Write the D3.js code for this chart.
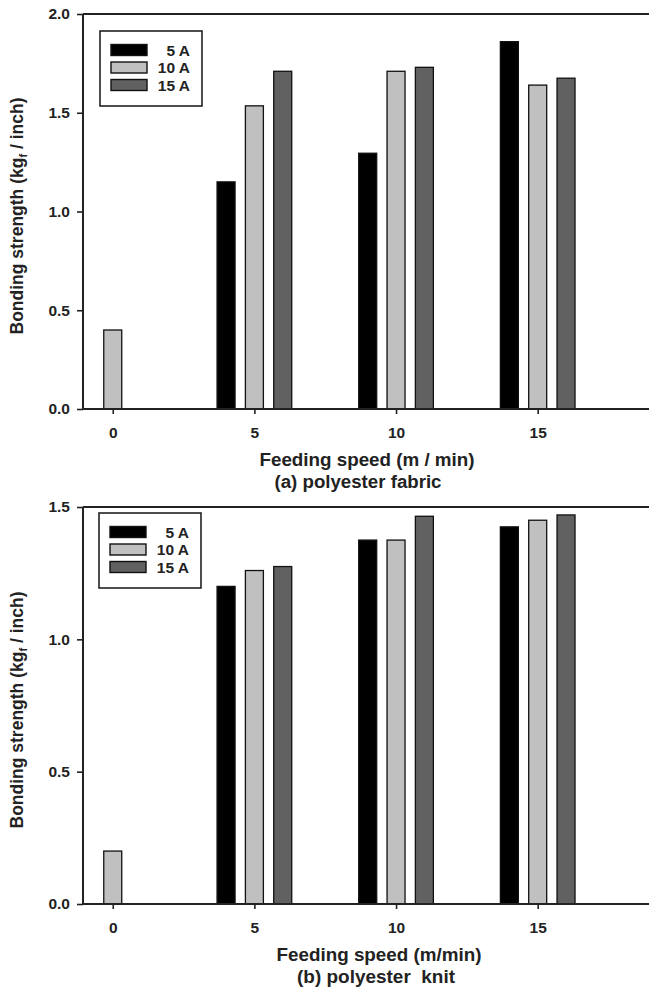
<!DOCTYPE html>
<html>
<head>
<meta charset="utf-8">
<script src="https://cdn.jsdelivr.net/npm/d3@7"></script>
<style>
  html, body { margin: 0; padding: 0; background: #fff; }
  svg { display: block; }
</style>
</head>
<body>
<div id="chart"></div>
<script>
// feeding speeds (m/min) and current levels
const speeds = [0, 5, 10, 15];
const xTicks = [0, 5, 10, 15];
const currents = ["5 A", "10 A", "15 A"];

// (a) polyester fabric, bonding strength (kgf / inch)
const fabric5A  = [null, 1.15, 1.295, 1.86];
const fabric10A = [0.40, 1.535, 1.71, 1.64];
const fabric15A = [null, 1.71, 1.73, 1.675];
const fabricTicks = [0, 0.5, 1.0, 1.5, 2.0];

// (b) polyester knit
const knit5A  = [null, 1.20, 1.375, 1.425];
const knit10A = [0.20, 1.26, 1.375, 1.45];
const knit15A = [null, 1.275, 1.465, 1.47];
const knitTicks = [0, 0.5, 1.0, 1.5];

const width = 649, height = 989;
const colors = ["#000000", "#c0c0c0", "#616161"];
const ink = "#222";

const svg = d3.select("#chart")
    .append("svg")
    .attr("width", width)
    .attr("height", height)
    .style("font-family", "'Liberation Sans', Arial, sans-serif")
    .style("font-weight", "bold");

function drawPanel(p) {
    const x = d3.scaleLinear().domain([-1.05, 19]).range([83, 83 + 20.05 * 28.33]);
    const y = d3.scaleLinear().domain([0, p.yMax]).range([p.bottom, p.top]);
    const barW = x(0.635) - x(0);

    const g = svg.append("g");

    // bars, one group per current level
    p.series.forEach((vals, si) => {
        const rows = speeds.map((s, i) => ({ s: s, v: vals[i] })).filter(d => d.v != null);
        g.selectAll(null)
            .data(rows)
            .enter()
            .append("rect")
            .attr("x", d => x(d.s + (si - 1)) - barW / 2)
            .attr("y", d => y(d.v))
            .attr("width", barW)
            .attr("height", d => y(0) - y(d.v))
            .attr("fill", colors[si])
            .attr("stroke", "#111")
            .attr("stroke-width", 1.3);
    });

    // axes
    const yAxis = g.append("g")
        .attr("transform", `translate(${x.range()[0]},0)`)
        .call(d3.axisLeft(y).tickValues(p.yTicks).tickFormat(d3.format(".1f"))
            .tickSize(6).tickPadding(7).tickSizeOuter(0));
    const xAxis = g.append("g")
        .attr("transform", `translate(0,${p.bottom})`)
        .call(d3.axisBottom(x).tickValues(xTicks).tickFormat(d3.format("d"))
            .tickSize(5).tickPadding(13).tickSizeOuter(0));

    [yAxis, xAxis].forEach(a => {
        a.select(".domain").remove();
        a.selectAll(".tick line").attr("stroke", ink).attr("stroke-width", 1.6);
        a.selectAll(".tick text")
            .attr("fill", ink)
            .style("font-size", "15.5px")
            .style("font-family", "'Liberation Sans', Arial, sans-serif")
            .style("font-weight", "bold");
    });

    // frame: left, bottom, top (right side runs off the page)
    g.append("line").attr("x1", 83).attr("x2", 83).attr("y1", p.top).attr("y2", p.bottom)
        .attr("stroke", ink).attr("stroke-width", 2);
    g.append("line").attr("x1", 83).attr("x2", width).attr("y1", p.bottom).attr("y2", p.bottom)
        .attr("stroke", ink).attr("stroke-width", 2);
    g.append("line").attr("x1", 83).attr("x2", width).attr("y1", p.top).attr("y2", p.top)
        .attr("stroke", ink).attr("stroke-width", 2);

    // legend
    const lg = g.append("g").attr("transform", `translate(${p.legend[0]},${p.legend[1]})`);
    lg.append("rect").attr("width", 102).attr("height", 75)
        .attr("fill", "#fff").attr("stroke", ink).attr("stroke-width", 1.6);
    currents.forEach((c, i) => {
        lg.append("rect")
            .attr("x", 11).attr("y", 13.5 + i * 17.5)
            .attr("width", 36).attr("height", 11)
            .attr("fill", colors[i]).attr("stroke", "#111").attr("stroke-width", 1.4);
        lg.append("text")
            .attr("x", 90).attr("y", 24.5 + i * 17.5)
            .attr("text-anchor", "end")
            .attr("fill", ink)
            .style("font-size", "15.5px")
            .text(c);
    });

    // y title
    const yt = g.append("text")
        .attr("transform", `translate(23,${p.yTitleY}) rotate(-90)`)
        .attr("text-anchor", "middle")
        .attr("fill", ink)
        .style("font-size", "17.5px");
    yt.append("tspan").text("Bonding strength (kg");
    yt.append("tspan").attr("dy", 4).style("font-size", "11px").text("f");
    yt.append("tspan").attr("dy", -4).text(" / inch)");

    // x title and caption (glyphs are a bit wide in the original)
    g.append("text")
        .attr("x", p.titleX).attr("y", p.bottom + 57)
        .attr("text-anchor", "middle").attr("fill", ink)
        .attr("textLength", p.titleLen).attr("lengthAdjust", "spacingAndGlyphs")
        .style("font-size", "18px")
        .text(p.xTitle);
    g.append("text")
        .attr("x", p.captionX).attr("y", p.bottom + 79)
        .attr("text-anchor", "middle").attr("fill", ink)
        .attr("textLength", p.captionLen).attr("lengthAdjust", "spacingAndGlyphs")
        .style("font-size", "18px")
        .style("white-space", "pre")
        .text(p.caption);
}

drawPanel({
    top: 14, bottom: 409, yMax: 2.0, yTicks: fabricTicks,
    series: [fabric5A, fabric10A, fabric15A],
    legend: [100, 31], yTitleY: 216,
    xTitle: "Feeding speed (m / min)", titleX: 367, titleLen: 215,
    caption: "(a) polyester fabric", captionX: 358, captionLen: 167
});

drawPanel({
    top: 507, bottom: 904, yMax: 1.5, yTicks: knitTicks,
    series: [knit5A, knit10A, knit15A],
    legend: [99, 513], yTitleY: 710,
    xTitle: "Feeding speed (m/min)", titleX: 379, titleLen: 205,
    caption: "(b) polyester\u00a0 knit", captionX: 376, captionLen: 158
});
</script>
</body>
</html>
